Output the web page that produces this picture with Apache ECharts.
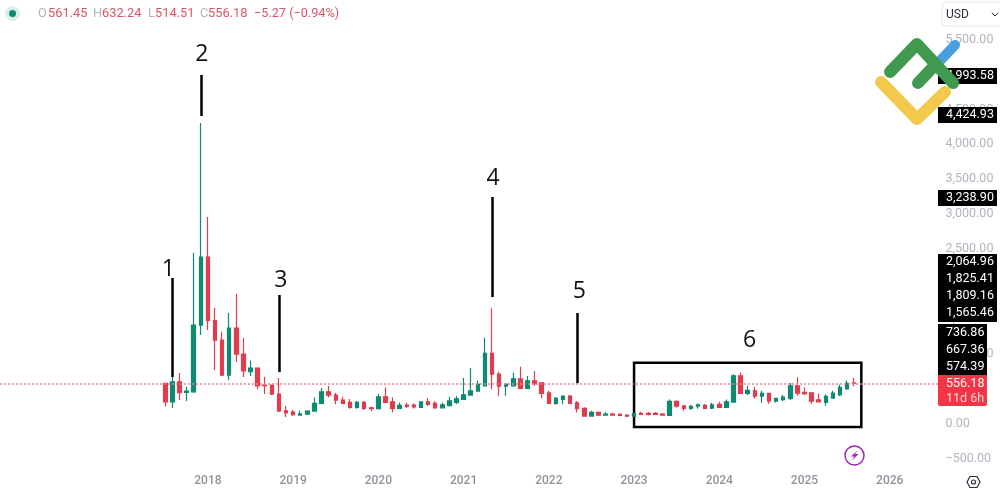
<!DOCTYPE html>
<html>
<head>
<meta charset="utf-8">
<style>
  html, body { margin: 0; padding: 0; background: #fff; }
  #chart { width: 1000px; height: 494px; }
</style>
<script src="https://cdn.jsdelivr.net/npm/echarts@6/dist/echarts.min.js"></script>
</head>
<body>
<div id="chart"></div>
<script>
// monthly candles, Jul 2017 .. Aug 2025
var opens = [555,291,577,426,434,1390,2364,1452,1175,674,1347,974,721,774,530,530,401,162,143,100,115,158,268,434,387,315,282,211,282,205,191,363,291,196,244,244,211,291,268,205,234,282,325,387,444,520,984,688,516,520,620,483,592,563,420,268,325,373,277,196,86,139,100,115,110,100,86,125,125,125,115,96,297,234,196,229,239,201,254,211,287,663,411,449,373,411,301,320,340,520,426,420,320,282,344,391,477,561.45];
var closes = [291,577,420,444,1390,2364,1452,1175,674,1347,974,735,774,520,523,401,158,133,105,119,158,268,434,387,315,268,211,282,196,191,363,282,196,239,225,219,291,254,205,248,305,334,391,449,545,984,688,516,545,620,483,592,549,411,268,340,373,268,191,86,139,100,115,100,96,86,122,110,110,110,100,297,229,196,225,248,196,248,211,291,663,411,454,373,411,301,340,358,520,416,406,301,291,368,416,497,555,556.18];
var lows = [219,201,315,301,420,1247,1318,745,659,602,864,645,659,473,401,387,143,72,90,90,105,148,254,354,254,258,191,191,172,158,182,272,139,196,201,196,205,234,191,201,225,258,315,383,434,516,469,377,377,506,469,477,520,340,254,248,258,262,139,76,76,86,90,90,82,72,72,100,96,100,90,82,205,162,176,196,186,186,201,205,282,405,387,334,277,262,282,301,315,377,387,258,282,234,334,373,463,514.51];
var highs = [559,960,702,506,2422,4285,2938,1634,1294,1562,1834,1204,878,785,649,537,630,229,172,162,168,354,487,516,420,363,330,301,301,219,401,497,354,282,277,268,297,340,297,282,363,373,631,774,592,1208,1629,721,555,712,792,659,731,569,449,358,377,387,301,211,162,143,143,133,125,110,129,148,143,143,129,325,311,244,244,268,258,277,291,325,684,712,520,502,449,420,348,387,559,641,497,426,411,397,449,540,597,632.24];

// axis, 22 blank slots before the first candle so Jan 2018 lands under 2018
var leadingSlots = 22;
var firstYear = 2017, firstMonth = 7, monthSlots = 110;
var categories = [];
for (var i = 0; i < leadingSlots; i++) categories.push('');
for (var m = 0; m < monthSlots; m++) {
  var n = firstMonth - 1 + m;
  var mm = n % 12 + 1;
  categories.push((firstYear + Math.floor(n / 12)) + '-' + (mm < 10 ? '0' + mm : mm));
}
var firstLabelYear = 2018;

// numbered notes: month, bottom and top of the line
var noteMonths = ['2017-08', '2017-12', '2018-11', '2021-05', '2022-05'];
var noteLabels = ['1', '2', '3', '4', '5'];
var noteFrom = [645, 4385, 716, 1791, 559];
var noteTo = [2064, 4973, 1820, 3224, 1562];
var noteShift = [[-4, 9], [1, -3], [2, 3], [1, -1], [2, -4]];
var boxMonths = ['2023-01', '2025-09'];
var boxValues = [-72, 851];
var boxLabel = '6';
var lastClose = 556.18;

// labels on the price scale
var tagsUpper = ['4,993.58', '4,424.93', '3,238.90'];
var tagsUpperY = [76, 115, 198];
var tagsWide = ['2,064.96', '1,825.41', '1,809.16', '1,565.46'];
var tagsNarrow = ['736.86', '667.36', '574.39'];
var legendParts = [
  ['O', '561.45', 38, 48], ['H', '632.24', 93, 102], ['L', '514.51', 148, 155], ['C', '556.18', 200, 208]
];
var legendChange = '\u22125.27 (\u22120.94%)';

var UP = '#0f8a72', DOWN = '#e03c4e', GREY = '#b2b5be', FONT = 'Roboto, sans-serif';
var NOTE_FONT = 'Open Sans, sans-serif';

var candles = [];
for (var j = 0; j < leadingSlots; j++) candles.push(['-', '-', '-', '-']);
for (var k = 0; k < opens.length; k++) candles.push([opens[k], closes[k], lows[k], highs[k]]);

var noteLines = noteMonths.map(function (month, idx) {
  return [
    { coord: [month, noteFrom[idx]] },
    { coord: [month, noteTo[idx]],
      label: { show: true, position: 'end', formatter: noteLabels[idx], offset: [noteShift[idx][0], noteShift[idx][1] - 1],
        color: '#111', fontSize: 23, fontFamily: NOTE_FONT },
      lineStyle: { color: '#000', width: 2.5, type: 'solid' } }
  ];
});
var priceStyle = { color: '#f0808c', width: 1.5, type: [2, 2], opacity: 1 };
var priceLine = [
  { x: 0, yAxis: lastClose, lineStyle: priceStyle },
  { x: 940, yAxis: lastClose, lineStyle: priceStyle }
];

var G = [];
function rect(x, y, w, h, fill, r) {
  G.push({ type: 'rect', z: 100, shape: { x: x, y: y, width: w, height: h, r: r || 0 }, style: { fill: fill } });
}
function text(x, y, s, color, size, z) {
  G.push({ type: 'text', z: z || 101, x: x, y: y,
    style: { text: s, fill: color, font: (size || 12.5) + 'px ' + FONT, textVerticalAlign: 'middle' } });
}
function stroke(points, color, width) {
  G.push({ type: 'polyline', z: 110, shape: { points: points },
    style: { stroke: color, lineWidth: width, lineCap: 'round', lineJoin: 'round', fill: null } });
}

// legend row
G.push({ type: 'circle', z: 100, shape: { cx: 12.5, cy: 13.5, r: 7.5 }, style: { fill: '#d8efea' } });
G.push({ type: 'circle', z: 101, shape: { cx: 12.5, cy: 13.5, r: 3.5 }, style: { fill: UP } });
legendParts.forEach(function (p) {
  text(p[2], 14, p[0], GREY, 12.8);
  text(p[3], 14, p[1], '#d9566a', 12.8);
});
text(254, 14, legendChange, '#d9566a', 12.7);

// currency box
G.push({ type: 'rect', z: 100, shape: { x: 942, y: 2, width: 64, height: 24, r: 4 }, style: { fill: '#fff', stroke: '#e6e8ee', lineWidth: 1 } });
text(946, 14.5, 'USD', '#2a2e39', 12);
stroke([[992, 13], [995, 16], [998, 13]], '#2a2e39', 1);
G[G.length - 1].z = 101;

// price tags
tagsUpper.forEach(function (t, idx) {
  rect(938, tagsUpperY[idx] - 8, 59, 16, '#000');
  text(946, tagsUpperY[idx], t, '#fff');
});
rect(938, 254, 59, 68, '#000');
tagsWide.forEach(function (t, idx) { text(946, 262 + idx * 17, t, '#fff'); });
rect(938, 324, 49, 51, '#000');
tagsNarrow.forEach(function (t, idx) { text(946, 333 + idx * 17, t, '#fff'); });
rect(938, 375, 49, 31, '#f23645', [0, 0, 2, 2]);
text(946, 384, '556.18', '#fff');
text(946, 399, '11d 6h', '#fbd5d9');

// logo
stroke([[938, 63], [955, 45]], '#4a9fe0', 10);
stroke([[881, 82], [917, 119], [945, 92]], '#f2c94c', 12);
stroke([[890, 72], [917, 44], [953, 83]], '#3f9a4f', 12);
stroke([[918, 83], [935, 65]], '#3f9a4f', 12);

// bolt and settings icons
G.push({ type: 'circle', z: 100, shape: { cx: 854.5, cy: 455.5, r: 9.5 }, style: { fill: '#fff', stroke: '#9c27b0', lineWidth: 1.5 } });
G.push({ type: 'polygon', z: 101, shape: { points: [[858, 450], [851, 456.5], [854.5, 456.5], [851.5, 461], [858.5, 454], [855, 454]] }, style: { fill: '#9c27b0' } });
G.push({ type: 'polygon', z: 100, shape: { points: [[967, 482], [970, 476.5], [977, 476.5], [980, 482], [977, 487.5], [970, 487.5]] }, style: { fill: '#fff', stroke: '#2a2e39', lineWidth: 1.2 } });
G.push({ type: 'circle', z: 101, shape: { cx: 973.5, cy: 482, r: 2 }, style: { fill: '#fff', stroke: '#2a2e39', lineWidth: 1.2 } });

var chart = echarts.init(document.getElementById('chart'));
chart.setOption({
  animation: false,
  backgroundColor: '#fff',
  grid: { left: 5.5, top: 38.1, width: 937.5, height: 418.9 },
  xAxis: {
    type: 'category',
    data: categories,
    offset: 18,
    axisLine: { show: false },
    axisTick: { show: false },
    splitLine: { show: false },
    axisLabel: {
      margin: 0,
      color: '#8f939c',
      fontFamily: FONT,
      fontSize: 12,
      fontWeight: 500,
      interval: function (idx, name) { return name.slice(5) === '01' && +name.slice(0, 4) >= firstLabelYear; },
      formatter: function (name) { return name.slice(0, 4); }
    }
  },
  yAxis: {
    type: 'value',
    position: 'right',
    min: -500,
    max: 5500,
    interval: 500,
    axisLine: { show: false },
    axisTick: { show: false },
    splitLine: { show: false },
    axisLabel: {
      margin: 2.5,
      formatter: function (v) {
        return '{t|' + v.toLocaleString('en-US', { minimumFractionDigits: 2, maximumFractionDigits: 2 }).replace('-', '\u2212') + '}';
      },
      rich: {
        t: { color: GREY, fontFamily: FONT, fontSize: 12.5, padding: [3, 0, 0, 0] }
      }
    }
  },
  series: [
    {
      type: 'candlestick',
      data: candles,
      barWidth: 4,
      clip: false,
      itemStyle: { color: UP, color0: DOWN, borderColor: UP, borderColor0: DOWN, borderWidth: 1.2 },
      markLine: {
        silent: true,
        symbol: 'none',
        animation: false,
        label: { show: false },
        data: [priceLine].concat(noteLines)
      },
      markArea: {
        silent: true,
        itemStyle: { color: 'rgba(0,0,0,0)', borderColor: '#000', borderWidth: 2.5 },
        label: { show: true, position: 'top', distance: 9, offset: [2, 0], formatter: boxLabel, color: '#111', fontSize: 23, fontFamily: NOTE_FONT },
        data: [[{ coord: [boxMonths[0], boxValues[1]] }, { coord: [boxMonths[1], boxValues[0]] }]]
      }
    }
  ],
  graphic: { elements: G }
});
</script>
</body>
</html>
